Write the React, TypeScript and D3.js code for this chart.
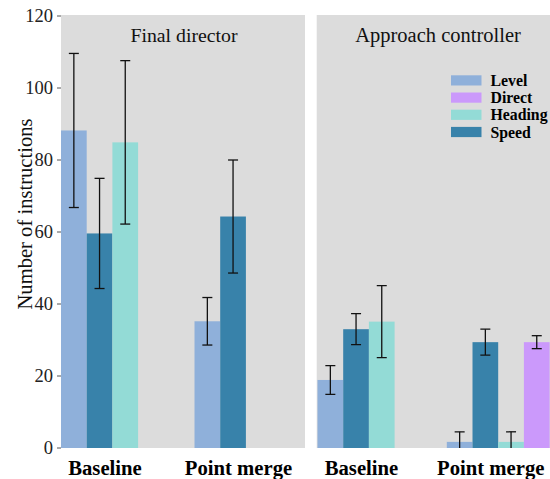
import React from "react";
import * as d3 from "d3";

const categories = ["Baseline", "Point merge"];
const seriesNames = ["Level", "Speed", "Heading", "Direct"];
const legendOrder = ["Level", "Direct", "Heading", "Speed"];
const colors: Record<string, string> = {
  Level: "#8fb0da",
  Speed: "#3882aa",
  Heading: "#93dbd6",
  Direct: "#cb99fb",
};
const panels = ["Final director", "Approach controller"];
// series order: Level, Speed, Heading, Direct
const finalDirectorMeans = [
  [88.2, 59.6, 84.9, null],
  [35.2, 64.3, null, null],
];
const finalDirectorErr = [
  [21.4, 15.3, 22.7, null],
  [6.6, 15.7, null, null],
];
const approachMeans = [
  [18.9, 33.0, 35.1, null],
  [1.7, 29.4, 1.7, 29.4],
];
const approachErr = [
  [4.0, 4.3, 10.0, null],
  [2.8, 3.6, 2.8, 1.8],
];
const yTicks = [0, 20, 40, 60, 80, 100, 120];

const W = 550;
const H = 479;
const top = 16;
const bottom = 448;

export default function App() {
  const y = d3.scaleLinear().domain([0, 120]).range([bottom, top]);
  const panelDefs = [
    { title: panels[0], x0: 61, x1: 305, tx: 184, fs: 19.8, centers: [105, 238.5], means: finalDirectorMeans, errs: finalDirectorErr },
    { title: panels[1], x0: 316.7, x1: 560.7, tx: 438, fs: 20.5, centers: [361.5, 490.8], means: approachMeans, errs: approachErr },
  ];
  const bw = 25.7;
  const serif = "'Liberation Serif', 'Times New Roman', serif";
  return (
    <svg width={W} height={H} style={{ position: "absolute", left: 0, top: 0, fontFamily: serif }}>
      <defs>
        {panelDefs.map((p, i) => (
          <clipPath id={`clip${i}`} key={i}>
            <rect x={p.x0} y={top - 1} width={p.x1 - p.x0} height={bottom - top + 1} />
          </clipPath>
        ))}
      </defs>
      {panelDefs.map((p, pi) => {
        const xc = d3.scaleOrdinal<string, number>().domain(categories).range(p.centers);
        const xs = d3.scaleBand().domain(seriesNames).range([-44, -44 + bw * 4]).padding(0);
        return (
          <g key={pi}>
            <rect x={p.x0} y={top - 1} width={p.x1 - p.x0} height={bottom - top + 1} fill="#dcdcdc" />
            <text x={p.tx} y={41.5} textAnchor="middle" fontSize={p.fs} fill="#111">
              {p.title}
            </text>
            <g clipPath={`url(#clip${pi})`}>
              {categories.map((c, ci) =>
                seriesNames.map((s, si) => {
                  const m = p.means[ci][si];
                  if (m === null) return null;
                  const e = p.errs[ci][si] as number;
                  const bx = (xc(c) as number) + (xs(s) as number);
                  const cx = bx + bw / 2;
                  return (
                    <g key={`${ci}-${si}`}>
                      <rect x={bx} y={y(m)} width={bw} height={bottom - y(m)} fill={colors[s]} />
                      <line x1={cx} x2={cx} y1={y(m + e)} y2={y(Math.max(m - e, -2))} stroke="#111" strokeWidth={1.3} />
                      <line x1={cx - 5} x2={cx + 5} y1={y(m + e)} y2={y(m + e)} stroke="#111" strokeWidth={1.3} />
                      {m - e > 0 && (
                        <line x1={cx - 5} x2={cx + 5} y1={y(m - e)} y2={y(m - e)} stroke="#111" strokeWidth={1.3} />
                      )}
                    </g>
                  );
                })
              )}
            </g>
            {categories.map((c) => (
              <text key={c} x={xc(c) as number} y={475} textAnchor="middle" fontSize={20.7} fontWeight="bold" fill="#000">
                {c}
              </text>
            ))}
          </g>
        );
      })}
      {yTicks.map((t) => (
        <g key={t}>
          <line x1={57} x2={61} y1={y(t)} y2={y(t)} stroke="#555" strokeWidth={1} />
          <text x={53} y={y(t) + 6} textAnchor="end" fontSize={18.5} fill="#222">
            {t}
          </text>
        </g>
      ))}
      <text transform={`translate(32,214) rotate(-90)`} textAnchor="middle" fontSize={20.6} fill="#111">
        Number of instructions
      </text>
      {legendOrder.map((s, i) => (
        <g key={s}>
          <rect x={451} y={75.3 + i * 17.2} width={30.5} height={10.2} fill={colors[s]} />
          <text x={490.5} y={86 + i * 17.2} fontSize={15.8} fontWeight="bold" fill="#000">
            {s}
          </text>
        </g>
      ))}
    </svg>
  );
}
